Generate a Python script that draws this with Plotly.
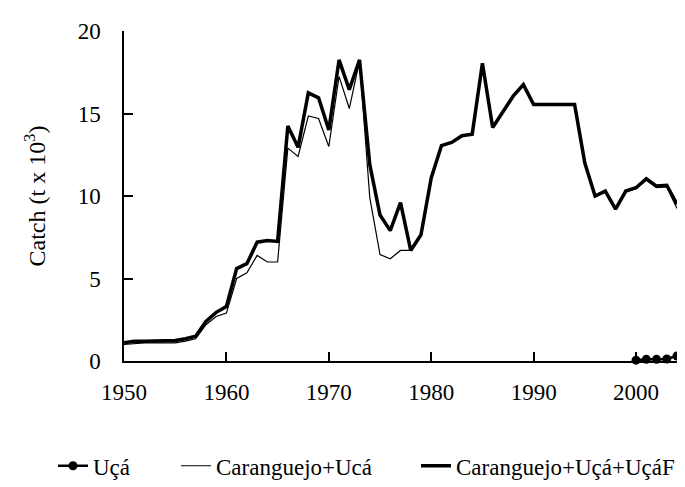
import plotly.graph_objects as go

years = list(range(1950, 2005))

# Caranguejo+Uçá+UçáF (thick line)
total_f = [1.1, 1.2, 1.2, 1.2, 1.2, 1.25, 1.35, 1.5, 2.4, 2.95,
           3.3, 5.6, 5.9, 7.2, 7.3, 7.25, 14.25, 12.95, 16.25, 15.95,
           14.0, 18.25, 16.45, 18.25, 11.9, 8.85, 7.9, 9.6, 6.7, 7.65,
           11.1, 13.05, 13.25, 13.65, 13.75, 18.05, 14.15, 15.1, 16.05, 16.75,
           15.55, 15.55, 15.55, 15.55, 15.55, 12.0, 10.0, 10.3, 9.2, 10.3,
           10.5, 11.05, 10.6, 10.65, 9.5]

# Caranguejo+Ucá (thin line)
total = [1.0, 1.05, 1.1, 1.1, 1.1, 1.1, 1.2, 1.35, 2.2, 2.7,
         2.9, 5.0, 5.35, 6.4, 6.0, 6.0, 12.9, 12.4, 14.85, 14.7,
         13.0, 17.25, 15.3, 18.2, 9.9, 6.45, 6.2, 6.7, 6.7, 7.65,
         11.1, 13.05, 13.25, 13.65, 13.75, 18.05, 14.15, 15.1, 16.05, 16.75,
         15.55, 15.55, 15.55, 15.55, 15.55, 12.0, 10.0, 10.3, 9.2, 10.3,
         10.45, 10.95, 10.5, 10.55, 9.25]

uca_years = [2000, 2001, 2002, 2003, 2004]
uca = [0.05, 0.1, 0.1, 0.12, 0.3]

x_ticks = [1950, 1960, 1970, 1980, 1990, 2000]
y_ticks = [0, 5, 10, 15, 20]

FONT = "Liberation Serif"

fig = go.Figure()
fig.add_trace(go.Scatter(
    x=uca_years, y=uca, name="Uçá", mode="lines+markers",
    line=dict(color="black", width=2.5),
    marker=dict(color="black", size=9, symbol="circle"),
    cliponaxis=False, legend="legend",
))
fig.add_trace(go.Scatter(
    x=years, y=total, name="Caranguejo+Ucá", mode="lines",
    line=dict(color="black", width=1.2), legend="legend2",
))
fig.add_trace(go.Scatter(
    x=years, y=total_f, name="Caranguejo+Uçá+UçáF", mode="lines",
    line=dict(color="black", width=3.5), legend="legend3",
))

def leg(xpx):
    return dict(
        orientation="h", xref="container", yref="container",
        x=xpx / 685, y=0.06, xanchor="left", yanchor="middle",
        font=dict(family=FONT, size=23, color="black"),
        bgcolor="rgba(0,0,0,0)", borderwidth=0,
    )

fig.update_layout(
    width=685, height=487,
    margin=dict(l=116, r=16, t=23, b=134),
    paper_bgcolor="white", plot_bgcolor="white",
    font=dict(family=FONT, size=23, color="black"),
    showlegend=True,
    legend=leg(45),
    legend2=leg(168),
    legend3=leg(408),
    xaxis=dict(
        range=[1950, 2004], tickvals=x_ticks,
        ticktext=[str(v) for v in x_ticks],
        showline=True, linecolor="black", linewidth=1.5,
        ticks="inside", ticklen=9, tickwidth=1.5, tickcolor="black",
        showgrid=False, zeroline=False, ticklabelstandoff=10,
        tickfont=dict(family=FONT, size=23),
    ),
    yaxis=dict(
        range=[0, 20], tickvals=y_ticks,
        showline=True, linecolor="black", linewidth=1.5,
        ticks="inside", ticklen=9, tickwidth=1.5, tickcolor="black",
        showgrid=False, zeroline=False, ticklabelstandoff=17,
        tickfont=dict(family=FONT, size=23),
        title=dict(text="Catch (t x 10<sup>3</sup>)",
                   font=dict(family=FONT, size=24), standoff=25),
    ),
)

fig.write_html("out.html")
